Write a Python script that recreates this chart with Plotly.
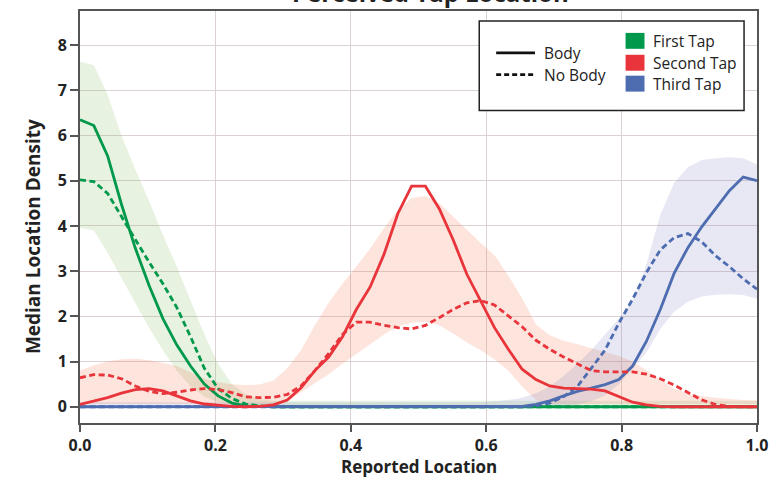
import numpy as np
import plotly.graph_objects as go

# Sampling grid of reported location (50 evenly spaced points on [0, 1])
location = np.linspace(0, 1, 50)

# Median location density curves
first_body = [6.35, 6.22, 5.55, 4.48, 3.51, 2.68, 1.95, 1.37, 0.9, 0.5,
              0.24, 0.08, 0.02, 0.005, 0, 0, 0, 0, 0, 0,
              0, 0, 0, 0, 0, 0, 0, 0, 0, 0,
              0, 0, 0, 0, 0, 0, 0, 0, 0, 0,
              0, 0, 0, 0, 0, 0, 0, 0, 0, 0]
first_nobody = [5.02, 4.98, 4.72, 4.2, 3.7, 3.2, 2.72, 2.2, 1.55, 0.85,
                0.4, 0.18, 0.06, 0.02, 0, 0, 0, 0, 0, 0,
                0, 0, 0, 0, 0, 0, 0, 0, 0, 0,
                0, 0, 0, 0, 0, 0, 0, 0, 0, 0,
                0, 0, 0, 0, 0, 0, 0, 0, 0, 0]
second_body = [0.05, 0.12, 0.2, 0.3, 0.38, 0.4, 0.35, 0.24, 0.13, 0.06,
               0.03, 0.01, 0.0, 0.01, 0.04, 0.15, 0.42, 0.8, 1.1, 1.55,
               2.15, 2.65, 3.37, 4.27, 4.88, 4.88, 4.38, 3.7, 2.93, 2.35,
               1.75, 1.27, 0.83, 0.6, 0.46, 0.41, 0.4, 0.39, 0.35, 0.22,
               0.1, 0.04, 0.01, 0, 0, 0, 0, 0, 0, 0]
second_nobody = [0.64, 0.71, 0.7, 0.62, 0.46, 0.34, 0.29, 0.32, 0.37, 0.4,
                 0.38, 0.31, 0.22, 0.2, 0.21, 0.27, 0.46, 0.8, 1.18, 1.6,
                 1.87, 1.87, 1.8, 1.75, 1.72, 1.8, 1.97, 2.15, 2.3, 2.35,
                 2.25, 2.0, 1.77, 1.47, 1.27, 1.1, 0.95, 0.8, 0.77, 0.77,
                 0.77, 0.72, 0.62, 0.48, 0.32, 0.15, 0.05, 0.01, 0, 0]
third_body = [0, 0, 0, 0, 0, 0, 0, 0, 0, 0,
              0, 0, 0, 0, 0, 0, 0, 0, 0, 0,
              0, 0, 0, 0, 0, 0, 0, 0, 0, 0,
              0, 0, 0.01, 0.05, 0.13, 0.24, 0.34, 0.41, 0.49, 0.6,
              0.9, 1.45, 2.15, 2.95, 3.52, 3.98, 4.38, 4.78, 5.08, 5.0]
third_nobody = [0, 0, 0, 0, 0, 0, 0, 0, 0, 0,
                0, 0, 0, 0, 0, 0, 0, 0, 0, 0,
                0, 0, 0, 0, 0, 0, 0, 0, 0, 0,
                0, 0, 0, 0.02, 0.08, 0.22, 0.45, 0.85, 1.25, 1.85,
                2.38, 2.97, 3.47, 3.74, 3.83, 3.65, 3.34, 3.1, 2.83, 2.6]

# Spread bands (lower / upper)
first_upper = [7.63, 7.56, 6.9, 6.0, 5.25, 4.55, 3.8, 3.1, 2.35, 1.6,
               0.95, 0.5, 0.27, 0.17, 0.13, 0.13, 0.13, 0.13, 0.13, 0.13,
               0.13, 0.13, 0.13, 0.13, 0.13, 0.13, 0.13, 0.13, 0.13, 0.13,
               0.13, 0.13, 0.13, 0.13, 0.13, 0.13, 0.13, 0.13, 0.13, 0.13,
               0.13, 0.13, 0.13, 0.13, 0.13, 0.13, 0.13, 0.13, 0.13, 0.13]
first_lower = [3.96, 3.9, 3.4, 2.85, 2.3, 1.75, 1.25, 0.8, 0.45, 0.22,
               0.1, 0.04, 0, 0, 0, 0, 0, 0, 0, 0,
               0, 0, 0, 0, 0, 0, 0, 0, 0, 0,
               0, 0, 0, 0, 0, 0, 0, 0, 0, 0,
               0, 0, 0, 0, 0, 0, 0, 0, 0, 0]
second_upper = [0.8, 0.92, 1.0, 1.05, 1.06, 1.03, 0.97, 0.9, 0.76, 0.62,
                0.54, 0.5, 0.48, 0.49, 0.58, 0.85, 1.25, 1.8, 2.3, 2.72,
                3.1, 3.5, 3.95, 4.35, 4.62, 4.66, 4.5, 4.2, 3.92, 3.62,
                3.35, 2.9, 2.4, 1.82, 1.58, 1.46, 1.38, 1.3, 1.21, 1.12,
                1.0, 0.8, 0.6, 0.4, 0.3, 0.24, 0.2, 0.17, 0.15, 0.14]
second_lower = [0.06, 0.06, 0.06, 0.06, 0.06, 0.06, 0.06, 0.06, 0.06, 0.06,
                0.06, 0.06, 0.06, 0.06, 0.06, 0.12, 0.32, 0.52, 0.72, 0.95,
                1.17, 1.38, 1.6, 1.78, 1.86, 1.88, 1.8, 1.62, 1.42, 1.25,
                1.05, 0.8, 0.45, 0.15, 0.06, 0.06, 0.06, 0.06, 0.06, 0.06,
                0.06, 0.06, 0.06, 0.06, 0.06, 0.06, 0.06, 0.06, 0.06, 0.06]
third_upper = [0.1, 0.1, 0.1, 0.1, 0.1, 0.1, 0.1, 0.1, 0.1, 0.1,
               0.1, 0.1, 0.1, 0.1, 0.1, 0.1, 0.1, 0.1, 0.1, 0.1,
               0.1, 0.1, 0.1, 0.1, 0.1, 0.1, 0.1, 0.1, 0.1, 0.1,
               0.12, 0.15, 0.2, 0.3, 0.45, 0.68, 0.95, 1.25, 1.6, 1.95,
               2.35, 3.15, 4.25, 4.95, 5.3, 5.46, 5.5, 5.52, 5.5, 5.36]
third_lower = [0, 0, 0, 0, 0, 0, 0, 0, 0, 0,
               0, 0, 0, 0, 0, 0, 0, 0, 0, 0,
               0, 0, 0, 0, 0, 0, 0, 0, 0, 0,
               0, 0, 0, 0, 0, 0, 0.05, 0.12, 0.25, 0.5,
               0.85, 1.2, 1.72, 2.1, 2.32, 2.44, 2.48, 2.49, 2.47, 2.39]

tap_names = ["First Tap", "Second Tap", "Third Tap"]
tap_colors = ["#00984A", "#E8343A", "#4E6CB0"]
band_colors = ["rgba(120,185,90,0.18)", "rgba(245,120,80,0.20)", "rgba(120,125,190,0.18)"]
x_ticks = [0.0, 0.2, 0.4, 0.6, 0.8, 1.0]
x_tick_text = ["0.0", "0.2", "0.4", "0.6", "0.8", "1.0"]
y_ticks = [0, 1, 2, 3, 4, 5, 6, 7, 8]

bands = [(first_lower, first_upper), (second_lower, second_upper), (third_lower, third_upper)]
medians = [(first_body, first_nobody), (second_body, second_nobody), (third_body, third_nobody)]

fig = go.Figure()

# shaded spread bands
for (lo, hi), fc in zip(bands, band_colors):
    fig.add_trace(go.Scatter(x=location, y=lo, mode="lines", line=dict(width=0),
                             hoverinfo="skip", showlegend=False))
    fig.add_trace(go.Scatter(x=location, y=hi, mode="lines", line=dict(width=0),
                             fill="tonexty", fillcolor=fc, hoverinfo="skip", showlegend=False))

# median curves: green first, then blue, red on top
for idx in [0, 2, 1]:
    body, nobody = medians[idx]
    col = tap_colors[idx]
    fig.add_trace(go.Scatter(x=location, y=nobody, mode="lines", name=tap_names[idx] + " (No Body)",
                             line=dict(color=col, width=2.8, dash="6px,3.5px"), showlegend=False))
    fig.add_trace(go.Scatter(x=location, y=body, mode="lines", name=tap_names[idx] + " (Body)",
                             line=dict(color=col, width=2.8), showlegend=False))

axis_col = "#555555"
grid_col = "#DCD2D4"
tick_font = dict(family="Open Sans", size=16, color="#222222", weight=700)

fig.update_xaxes(range=[0, 1], tickvals=x_ticks, ticktext=x_tick_text,
                 showgrid=True, gridcolor=grid_col, gridwidth=1.2, zeroline=False,
                 showline=True, linecolor=axis_col, linewidth=2, mirror=True,
                 ticks="outside", ticklen=7, tickwidth=2, tickcolor=axis_col,
                 tickfont=tick_font)
fig.update_yaxes(range=[-0.36, 8.755], tickvals=y_ticks,
                 showgrid=True, gridcolor=grid_col, gridwidth=1.2, zeroline=False,
                 showline=True, linecolor=axis_col, linewidth=2, mirror=True,
                 ticks="outside", ticklen=8, tickwidth=2, tickcolor=axis_col,
                 tickfont=tick_font)

W, H = 777, 478
L, R, T, B = 80, 17, 9, 55
pw, ph = W - L - R, H - T - B


def px(xp):
    return (xp - L) / pw


def py(yp):
    return (H - B - yp) / ph


annotations = [
    dict(text="Perceived Tap Location", x=px(432), y=py(8.5), xref="paper", yref="paper",
         xanchor="center", yanchor="bottom", showarrow=False,
         font=dict(family="Open Sans", size=24, color="#222222", weight=700)),
    dict(text="Median Location Density", x=px(33), y=py(236), xref="paper", yref="paper",
         xanchor="center", yanchor="middle", textangle=-90, showarrow=False,
         font=dict(family="Open Sans", size=19, color="#222222", weight=700)),
    dict(text="Reported Location", x=px(420), y=py(467), xref="paper", yref="paper",
         xanchor="center", yanchor="middle", showarrow=False, borderpad=0,
         font=dict(family="Open Sans", size=17, color="#222222", weight=700)),
]

legend_font = dict(family="Open Sans", size=15.5, color="#222222")
shapes = [
    dict(type="rect", xref="paper", yref="paper", x0=px(481), x1=px(747), y0=py(109), y1=py(19),
         line=dict(color="#222222", width=1.5), fillcolor="white", layer="above"),
    dict(type="line", xref="paper", yref="paper", x0=px(498), x1=px(537), y0=py(51), y1=py(51),
         line=dict(color="#111111", width=2.8), layer="above"),
    dict(type="line", xref="paper", yref="paper", x0=px(498), x1=px(537), y0=py(73), y1=py(73),
         line=dict(color="#111111", width=2.8, dash="5px,3px"), layer="above"),
]
for name, yp in [("Body", 51), ("No Body", 73)]:
    annotations.append(dict(text=name, x=px(544), y=py(yp), xref="paper", yref="paper",
                            xanchor="left", yanchor="middle", showarrow=False, font=legend_font))
for name, col, yc in zip(tap_names, tap_colors, [39, 61, 82]):
    shapes.append(dict(type="rect", xref="paper", yref="paper", x0=px(628), x1=px(647),
                       y0=py(yc + 8), y1=py(yc - 8), line=dict(width=0), fillcolor=col, layer="above"))
    annotations.append(dict(text=name, x=px(654), y=py(yc), xref="paper", yref="paper",
                            xanchor="left", yanchor="middle", showarrow=False, font=legend_font))

fig.update_layout(width=W, height=H, margin=dict(l=L, r=R, t=T, b=B),
                  plot_bgcolor="white", paper_bgcolor="white", showlegend=False,
                  annotations=annotations, shapes=shapes)

fig.write_html("out.html")
